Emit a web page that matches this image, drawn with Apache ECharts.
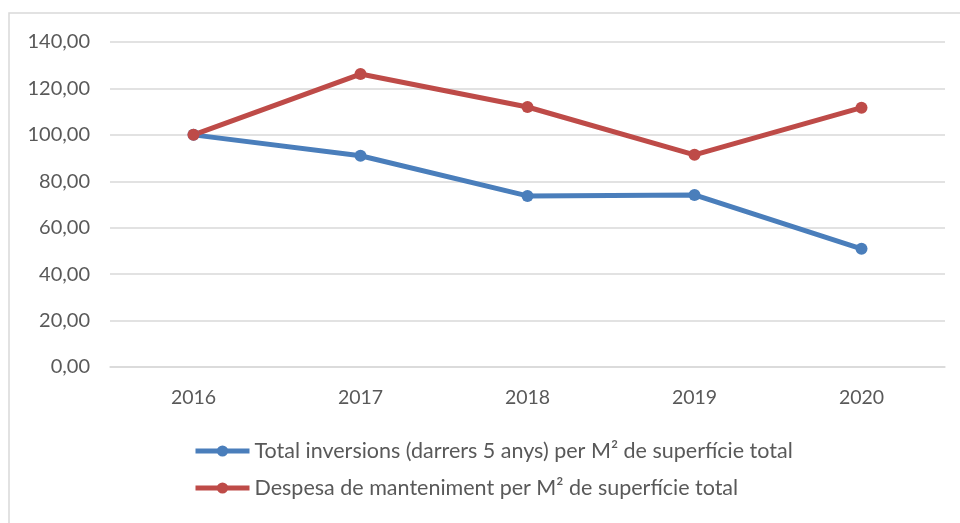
<!DOCTYPE html>
<html>
<head>
<meta charset="utf-8">
<script src="https://cdn.jsdelivr.net/npm/echarts@6/dist/echarts.min.js"></script>
<style>
  html, body { margin: 0; padding: 0; background: #fff; }
  #chart { width: 960px; height: 523px; }
</style>
</head>
<body>
<div id="chart"></div>
<script>
var years = ["2016", "2017", "2018", "2019", "2020"];
var inversions = [100, 91, 73.7, 74.1, 50.9];
var despesa = [100, 126.2, 112, 91.4, 111.7];
var seriesNames = [
  "Total inversions (darrers 5 anys) per M² de superfície total",
  "Despesa de manteniment per M² de superfície total"
];

var chartDom = document.getElementById("chart");
var myChart = echarts.init(chartDom);

var textColor = "#595959";
var font = "Lato, 'Open Sans', sans-serif";

var option = {
  animation: false,
  textStyle: { fontFamily: font },
  graphic: [
    {
      type: "polyline",
      shape: { points: [[9, 523], [9, 13], [960, 13]] },
      style: { stroke: "#d9d9d9", lineWidth: 1.5, fill: null },
    },
  ],
  grid: {
    left: 110,
    right: 15,
    top: 42,
    bottom: 156,
  },
  legend: {
    orient: "vertical",
    left: 188,
    top: 435,
    itemWidth: 54,
    itemHeight: 14,
    itemGap: 15,
    lineStyle: { width: 5 },
    textStyle: { color: textColor, fontSize: 21.5, fontFamily: font },
    data: seriesNames,
  },
  xAxis: {
    type: "category",
    data: years,
    boundaryGap: true,
    axisLine: { lineStyle: { color: "#d9d9d9", width: 1.5 } },
    axisTick: { show: false },
    axisLabel: { color: textColor, fontSize: 19.5, margin: 21 },
  },
  yAxis: {
    type: "value",
    min: 0,
    max: 140,
    interval: 20,
    axisLine: { show: false },
    axisTick: { show: false },
    splitLine: { lineStyle: { color: "#d9d9d9", width: 1.5 } },
    axisLabel: {
      color: textColor,
      fontSize: 20,
      margin: 20,
      formatter: function (v) {
        return v.toFixed(2).replace(".", ",");
      },
    },
  },
  series: [
    {
      name: seriesNames[0],
      type: "line",
      data: inversions,
      symbol: "circle",
      symbolSize: 12,
      lineStyle: { color: "#4a7ebb", width: 5 },
      itemStyle: { color: "#4a7ebb" },
    },
    {
      name: seriesNames[1],
      type: "line",
      data: despesa,
      symbol: "circle",
      symbolSize: 12,
      lineStyle: { color: "#be4b48", width: 5 },
      itemStyle: { color: "#be4b48" },
    },
  ],
};

myChart.setOption(option);
</script>
</body>
</html>
